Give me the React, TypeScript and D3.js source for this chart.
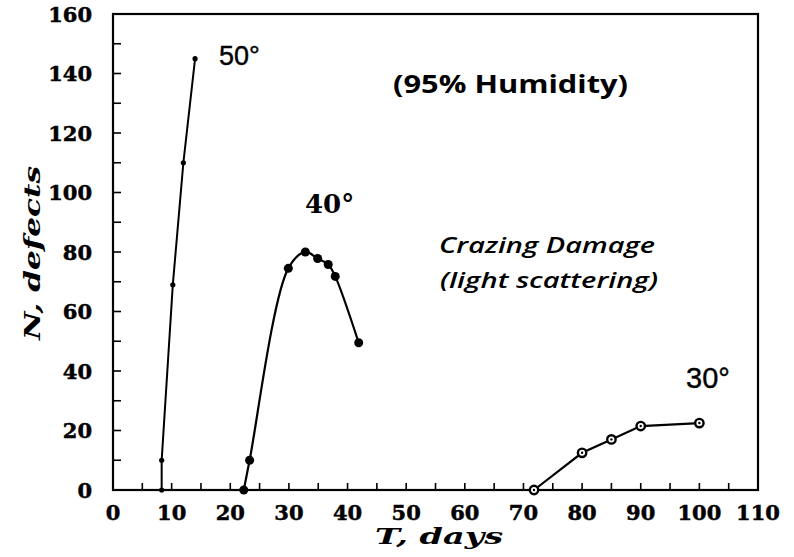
import React from "react";
import * as d3 from "d3";

const xTicks = [0, 10, 20, 30, 40, 50, 60, 70, 80, 90, 100, 110];
const yTicks = [0, 20, 40, 60, 80, 100, 120, 140, 160];

const days50 = [8.3, 8.3, 10.2, 12, 14];
const defects50 = [0, 10, 69, 110, 145];

const days40 = [22.3, 23.3, 29.9, 32.8, 34.9, 36.7, 37.9, 41.9];
const defects40 = [0, 10, 74.5, 80, 77.8, 75.8, 71.8, 49.5];

const days30 = [71.8, 80, 85, 90, 100];
const defects30 = [0, 12.5, 17, 21.5, 22.5];

const W = 794;
const H = 557;
const left = 113;
const right = 758;
const top = 14;
const bottom = 490;

export default function App() {
  const x = d3.scaleLinear().domain([0, 110]).range([left, right]);
  const y = d3.scaleLinear().domain([0, 160]).range([bottom, top]);

  const mk = (xs: number[], ys: number[]) => xs.map((d, i) => [d, ys[i]] as [number, number]);
  const s50 = mk(days50, defects50);
  const s40 = mk(days40, defects40);
  const s30 = mk(days30, defects30);

  const lineLin = d3.line<[number, number]>().x((d) => x(d[0])).y((d) => y(d[1]));
  const lineCurve = d3
    .line<[number, number]>()
    .x((d) => x(d[0]))
    .y((d) => y(d[1]))
    .curve(d3.curveCatmullRom.alpha(0.5));

  const xMinor = d3.range(5, 110, 5);
  const yMinor = d3.range(10, 160, 10);

  const serif = "'DejaVu Serif', serif";
  const sans = "'Liberation Sans', Arial, sans-serif";
  const sans2 = "'Open Sans', 'Liberation Sans', sans-serif";

  return (
    <svg
      width={W}
      height={H}
      style={{ position: "absolute", left: 0, top: 0, background: "#fff" }}
    >
      <rect x={0} y={0} width={W} height={H} fill="#fff" />
      {/* ticks */}
      {xMinor.map((t) => (
        <line key={"xt" + t} x1={x(t)} x2={x(t)} y1={bottom} y2={bottom - 7} stroke="#000" strokeWidth={1.6} />
      ))}
      {yMinor.map((t) => (
        <line key={"yt" + t} x1={left} x2={left + 8} y1={y(t)} y2={y(t)} stroke="#000" strokeWidth={1.6} />
      ))}
      {/* frame */}
      <rect
        x={left}
        y={top}
        width={right - left}
        height={bottom - top}
        fill="none"
        stroke="#000"
        strokeWidth={2.2}
      />
      {/* tick labels */}
      {xTicks.map((t) => (
        <text
          key={"xl" + t}
          x={x(t)}
          y={520}
          textAnchor="middle"
          fontFamily={serif}
          fontWeight="bold"
          fontSize={21}
          stroke="#000"
          strokeWidth={0.5}
        >
          {t}
        </text>
      ))}
      {yTicks.map((t) => (
        <text
          key={"yl" + t}
          x={92}
          y={y(t) + 7.5}
          textAnchor="end"
          fontFamily={serif}
          fontWeight="bold"
          fontSize={21}
          stroke="#000"
          strokeWidth={0.5}
        >
          {t}
        </text>
      ))}
      {/* axis titles */}
      <text
        x={375}
        y={544}
        fontFamily={serif}
        fontWeight="bold"
        fontStyle="italic"
        fontSize={22}
        textLength={128}
        lengthAdjust="spacingAndGlyphs"
      >
        T,  days
      </text>
      <text
        transform="translate(40,340) rotate(-90)"
        x={0}
        y={0}
        fontFamily={serif}
        fontWeight="bold"
        fontStyle="italic"
        fontSize={23}
        textLength={174}
        lengthAdjust="spacingAndGlyphs"
      >
        N,  defects
      </text>

      {/* series lines */}
      <path d={lineLin(s50) || ""} fill="none" stroke="#000" strokeWidth={2} />
      <path d={lineCurve(s40) || ""} fill="none" stroke="#000" strokeWidth={2.2} />
      <path d={lineLin(s30) || ""} fill="none" stroke="#000" strokeWidth={2.2} />

      {/* markers */}
      {s50.map((d, i) => (
        <circle key={"m50" + i} cx={x(d[0])} cy={y(d[1])} r={2.6} fill="#000" />
      ))}
      {s40.map((d, i) => (
        <circle key={"m40" + i} cx={x(d[0])} cy={y(d[1])} r={4.5} fill="#000" />
      ))}
      {s30.map((d, i) => (
        <g key={"m30" + i}>
          <circle cx={x(d[0])} cy={y(d[1])} r={4.2} fill="#fff" stroke="#000" strokeWidth={2.4} />
          <circle cx={x(d[0])} cy={y(d[1])} r={1.2} fill="#000" />
        </g>
      ))}

      {/* series labels */}
      <text x={219} y={65} fontFamily={sans} fontSize={27} stroke="#000" strokeWidth={0.4}>
        50°
      </text>
      <text x={305} y={213} fontFamily={serif} fontWeight="bold" fontSize={26}>
        40°
      </text>
      <text x={686} y={388} fontFamily={sans} fontSize={29} stroke="#000" strokeWidth={0.4}>
        30°
      </text>

      {/* annotations */}
      <text
        x={393}
        y={93}
        fontFamily={sans2}
        fontWeight="bold"
        fontSize={25}
        textLength={235}
        lengthAdjust="spacingAndGlyphs"
      >
        (95% Humidity)
      </text>
      <text
        x={439}
        y={253}
        fontFamily={sans2}
        fontWeight={600}
        fontStyle="italic"
        fontSize={22}
        textLength={216}
        lengthAdjust="spacingAndGlyphs"
      >
        Crazing Damage
      </text>
      <text
        x={440}
        y={288}
        fontFamily={sans2}
        fontWeight={600}
        fontStyle="italic"
        fontSize={22}
        textLength={218}
        lengthAdjust="spacingAndGlyphs"
      >
        (light scattering)
      </text>
    </svg>
  );
}
